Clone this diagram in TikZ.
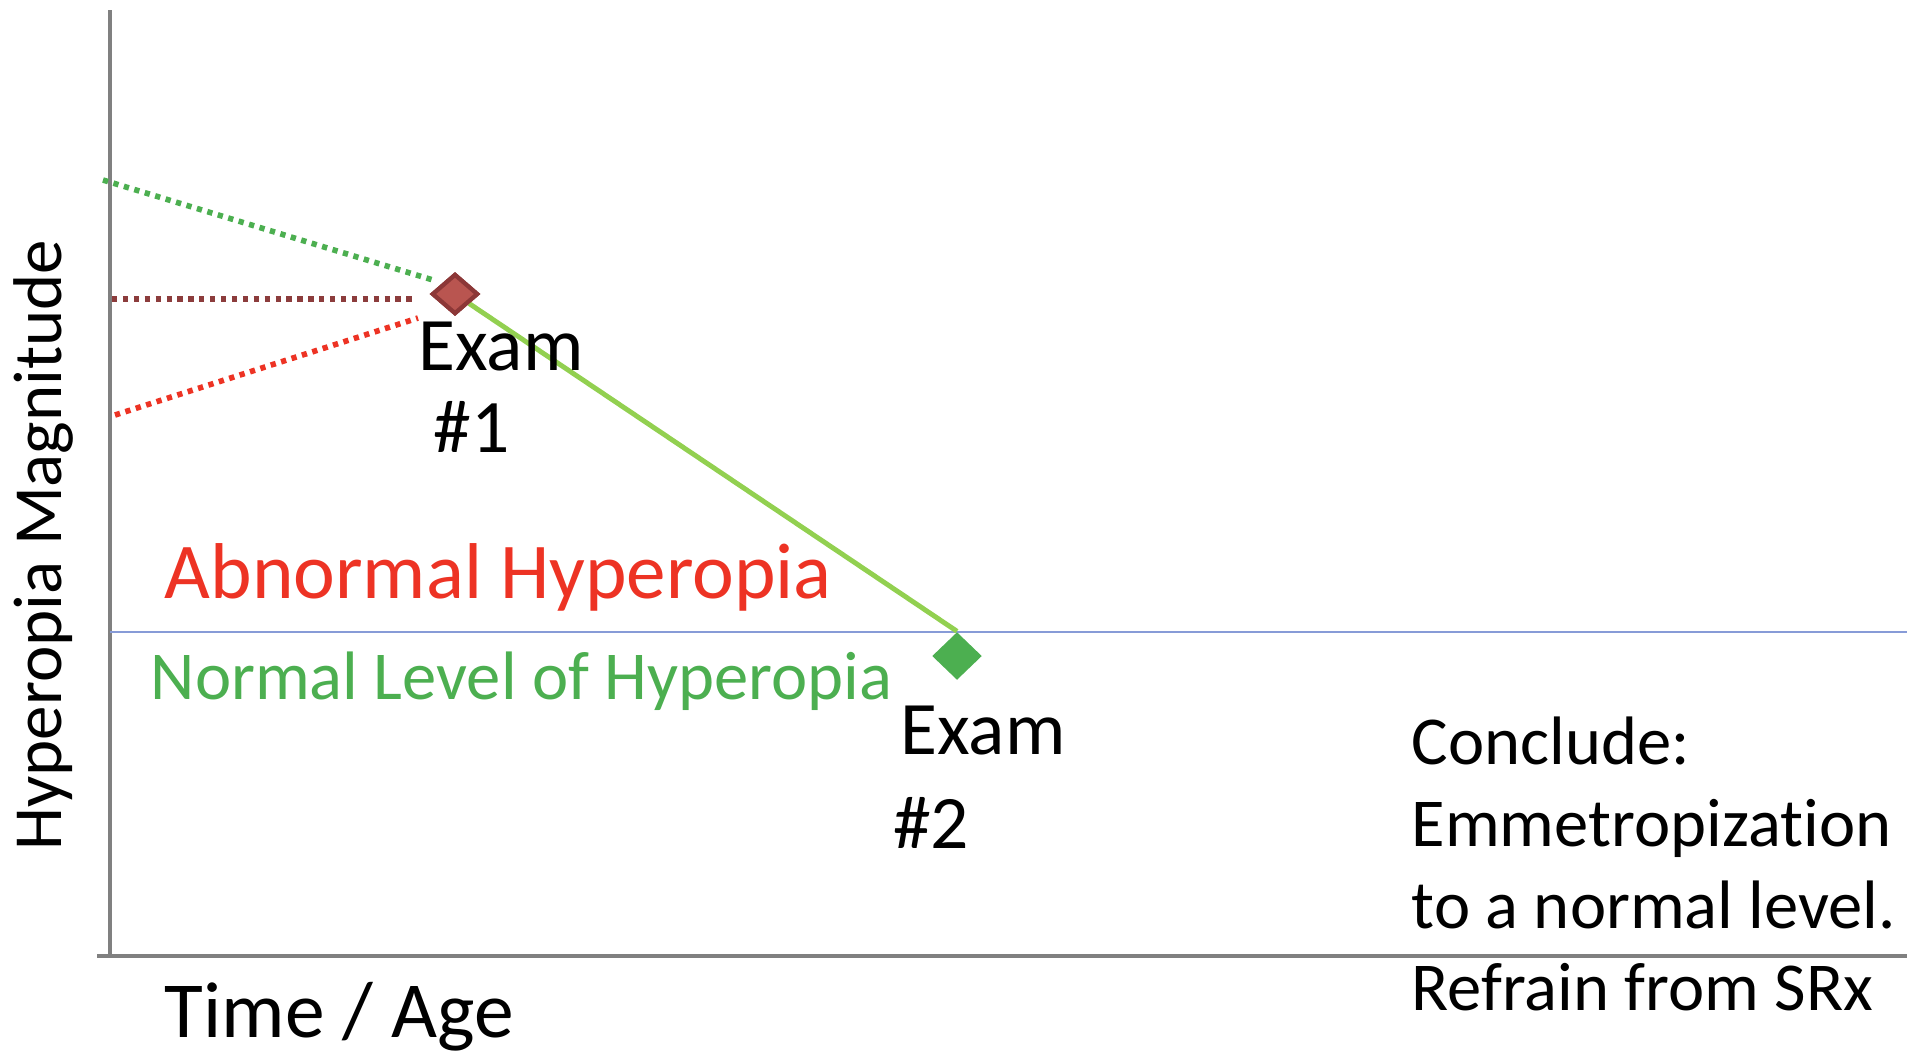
\documentclass[tikz,border=0pt]{standalone}
\usepackage{fontspec}
\setmainfont{Carlito}[Ligatures={NoCommon,NoContextual}]
\usepackage{tikz}
\usetikzlibrary{shapes.geometric, positioning}
\definecolor{axisgray}{RGB}{128,128,128}
\definecolor{normblue}{RGB}{135,155,215}
\definecolor{trendgreen}{RGB}{146,208,80}
\definecolor{okgreen}{RGB}{76,175,80}
\definecolor{examred}{RGB}{185,85,80}
\definecolor{examredline}{RGB}{140,55,55}
\definecolor{dotbrown}{RGB}{140,60,60}
\definecolor{abnred}{RGB}{237,51,36}

\begin{document}
\begin{tikzpicture}[
    x=0.01cm, y=-0.01cm,
    axis/.style={draw=axisgray, line width=0.9pt},
    dotline/.style={line width=1.6pt, dash pattern=on 1.5pt off 1.6pt},
    mark1/.style={diamond, draw=examredline, fill=examred, line width=1.2pt, inner sep=0pt, minimum width=0.46cm, minimum height=0.40cm},
    mark2/.style={diamond, fill=okgreen, inner sep=0pt, minimum width=0.50cm, minimum height=0.48cm},
    lbl/.style={anchor=base west, inner sep=0pt, align=left}
]
    \useasboundingbox (0,0) rectangle (1907,1053);

    % Axes
    \coordinate (ytop) at (110,10);
    \coordinate (ybot) at (110,956);
    \coordinate (xleft) at (97,956);
    \coordinate (xright) at (1907,956);
    \draw[axis] (ytop) -- (ybot);
    \draw[axis] (xleft) -- (xright);

    % Normal level
    \coordinate (normL) at (110,632);
    \coordinate (normR) at (1907,632);
    \draw[draw=normblue, line width=0.6pt] (normL) -- (normR);

    % Exams
    \node[mark1] (ex1) at (455,294) {};
    \node[mark2] (ex2) at (957,656) {};
    \draw[trendgreen, line width=1.4pt] (ex1) -- (ex2.north);
    \node[mark1] at (ex1) {};

    % Projections back from exam 1
    \coordinate (gA) at (103,180);
    \coordinate (gB) at (433,280);
    \coordinate (bA) at (112,299);
    \coordinate (bB) at (417,299);
    \coordinate (rA) at (115,415);
    \coordinate (rB) at (418,318);
    \draw[dotline, okgreen] (gA) -- (gB);
    \draw[dotline, dotbrown] (bA) -- (bB);
    \draw[dotline, abnred] (rA) -- (rB);

    % Labels (base west = baseline of the last line)
    \node[lbl, font=\fontsize{21.5}{23.3}\selectfont] (ex1lbl) at (418,452) {Exam\\\hspace{0.2em}\#1};
    \node[lbl, font=\fontsize{21.5}{26.7}\selectfont] (ex2lbl) at (900,848) {Exam\\\hspace{-0.1em}\#2};
    \node[lbl, text=abnred, font=\fontsize{22.5}{27}\selectfont] (abn) at (164,598) {Abnormal Hyperopia};
    \node[lbl, text=okgreen, font=\fontsize{19.5}{23}\selectfont] (norm) at (150,699) {Normal Level of Hyperopia};
    \node[lbl, font=\fontsize{22.6}{27}\selectfont] (xlab) at (164,1037) {Time / Age};
    \node[anchor=base, inner sep=0pt, rotate=90, font=\fontsize{19.6}{24}\selectfont] (ylab) at (61,545) {Hyperopia Magnitude};
    \node[lbl, font=\fontsize{19.5}{23.3}\selectfont] (concl) at (1411,1010) {Conclude:\\Emmetropization\\to a normal level.\\Refrain from SRx};
\end{tikzpicture}
\end{document}
